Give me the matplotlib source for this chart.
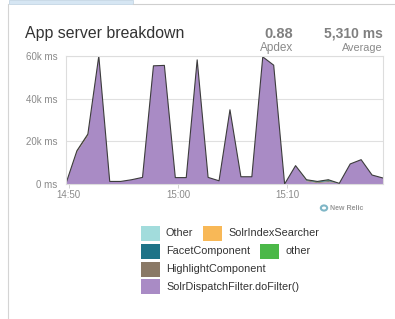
import matplotlib.pyplot as plt
import numpy as np
from matplotlib.patches import Rectangle, Circle

plt.rcParams["font.family"] = ["Liberation Sans", "DejaVu Sans"]

# sample times (one per minute) and stacked series values in k ms
sample_times = ["14:49:45", "14:50:45", "14:51:45", "14:52:45", "14:53:45", "14:54:45",
                "14:55:45", "14:56:45", "14:57:45", "14:58:45", "14:59:45", "15:00:45",
                "15:01:45", "15:02:45", "15:03:45", "15:04:45", "15:05:45", "15:06:45",
                "15:07:45", "15:08:45", "15:09:45", "15:10:45", "15:11:45", "15:12:45",
                "15:13:45", "15:14:45", "15:15:45", "15:16:45", "15:17:45", "15:18:45"]
other_vals = [0] * 30
facet_vals = [0, 0, 0, 0, 0, 0, 0, 0, 0, 0, 0, 0, 0, 0, 0, 0, 0, 0,
              0, 0, 0, 0, 0.2, 0.3, 0.4, 0, 0, 0, 0, 0]
highlight_vals = [0, 0.7, 0.9, 0, 0, 0, 0, 0, 0, 0, 0, 0, 0, 0, 0, 0, 0, 0,
                  0, 0, 0, 0, 0.4, 0.4, 0.5, 0, 0, 0, 0, 0]
green_vals = [0, 0, 0, 0, 0, 0, 0, 0, 0, 0, 0, 0, 0, 0, 0, 0, 0, 0,
              0, 0, 0, 0, 0.1, 0.1, 0.2, 0, 0, 0, 0, 0]
searcher_vals = [0] * 30
dispatch_vals = [0.3, 14.9, 22.5, 60.0, 1.2, 1.2, 2.0, 3.1, 55.4, 55.6, 3.0, 3.0,
                 58.2, 3.1, 1.5, 34.8, 3.4, 3.4, 59.6, 55.7, 0.0, 8.6, 1.3, 0.4,
                 0.9, 0.3, 9.4, 11.4, 4.2, 2.8]

series_names = ["SolrDispatchFilter.doFilter()", "HighlightComponent", "FacetComponent",
                "other", "SolrIndexSearcher", "Other"]
series_colors = ["#a98bc5", "#8a7966", "#1d7387", "#4bb848", "#f8b857", "#a2dcdc"]

x_ticks = ["14:50", "15:00", "15:10"]
y_ticks = [0, 20, 40, 60]


def to_minutes(t):
    h, m, s = (int(v) for v in t.split(":"))
    return (h * 60 + m + s / 60) - (14 * 60 + 50)


x = np.array([to_minutes(t) for t in sample_times])
layers = [dispatch_vals, highlight_vals, facet_vals, green_vals, searcher_vals, other_vals]

fig = plt.figure(figsize=(3.95, 3.19), dpi=100)
fig.patch.set_facecolor("white")

# page chrome: tab and borders
fig.add_artist(Rectangle((9 / 395, 1 - 4 / 319), 124 / 395, 4 / 319, transform=fig.transFigure,
                         facecolor="#d6e6f3", edgecolor="#c4d6e4", lw=0.6))
fig.add_artist(plt.Line2D([133 / 395, 1], [1 - 4 / 319] * 2, transform=fig.transFigure,
                          color="#cfcfcf", lw=0.8))
fig.add_artist(plt.Line2D([8 / 395] * 2, [0, 1 - 4 / 319], transform=fig.transFigure,
                          color="#d4d4d4", lw=0.8))

ax = fig.add_axes([66 / 395, 1 - 184 / 319, 317 / 395, 128 / 319])
ax.stackplot(x, layers, colors=series_colors, linewidth=0)
total = np.sum(layers, axis=0)
ax.plot(x, total, color="#3c3c3c", lw=0.8)

ax.set_xlim(x[0], x[-1])
ax.set_ylim(0, 60)
ax.set_yticks(y_ticks)
ax.set_yticklabels([f"{v}k ms" if v else "0 ms" for v in y_ticks])
tick_pos = [to_minutes(t + ":00") for t in x_ticks]
ax.set_xticks(tick_pos)
ax.set_xticklabels(x_ticks)
ax.tick_params(axis="y", length=0, pad=6, labelsize=7, labelcolor="#8a8a8a")
ax.tick_params(axis="x", length=3, width=0.6, color="#cccccc", pad=1,
               labelsize=7, labelcolor="#8a8a8a")
ax.grid(axis="y", color="#e0e0e0", lw=0.8)
ax.set_axisbelow(True)
for s in ax.spines.values():
    s.set_color("#dddddd")
    s.set_linewidth(0.8)

# header
fig.text(25 / 395, 1 - 38 / 319, "App server breakdown", fontsize=11.4, color="#333333")
fig.text(293 / 395, 1 - 38 / 319, "0.88", fontsize=10.5, fontweight="bold", color="#808080", ha="right")
fig.text(276.5 / 395, 1 - 51 / 319, "Apdex", fontsize=8.5, color="#8a8a8a", ha="center")
fig.text(383 / 395, 1 - 38 / 319, "5,310 ms", fontsize=10, fontweight="bold", color="#808080", ha="right")
fig.text(383 / 395, 1 - 51 / 319, "Average", fontsize=7.8, color="#8a8a8a", ha="right")

# New Relic mark
fig.add_artist(Circle((324 / 395, 1 - 208 / 319), 0.008, transform=fig.transFigure,
                      facecolor="none", edgecolor="#7fb6c6", lw=1.5))
fig.text(330 / 395, 1 - 208 / 319, "New Relic", fontsize=5, fontweight="bold",
         color="#9a9a9a", va="center")

# legend
legend_rows = [["Other", "SolrIndexSearcher"], ["FacetComponent", "other"],
               ["HighlightComponent"], ["SolrDispatchFilter.doFilter()"]]
col_x = [[141, 203], [141, 260], [141], [141]]
color_of = dict(zip(series_names, series_colors))
for r, row in enumerate(legend_rows):
    top = 226 + r * 17.8
    for name, bx in zip(row, col_x[r]):
        fig.add_artist(Rectangle((bx / 395, 1 - (top + 15) / 319), 19 / 395, 15 / 319,
                                 transform=fig.transFigure, facecolor=color_of[name], lw=0))
        fig.text((bx + 25) / 395, 1 - (top + 7.5) / 319, name, fontsize=7.8,
                 color="#333333", va="center")

fig.savefig("out.png", dpi=100)
